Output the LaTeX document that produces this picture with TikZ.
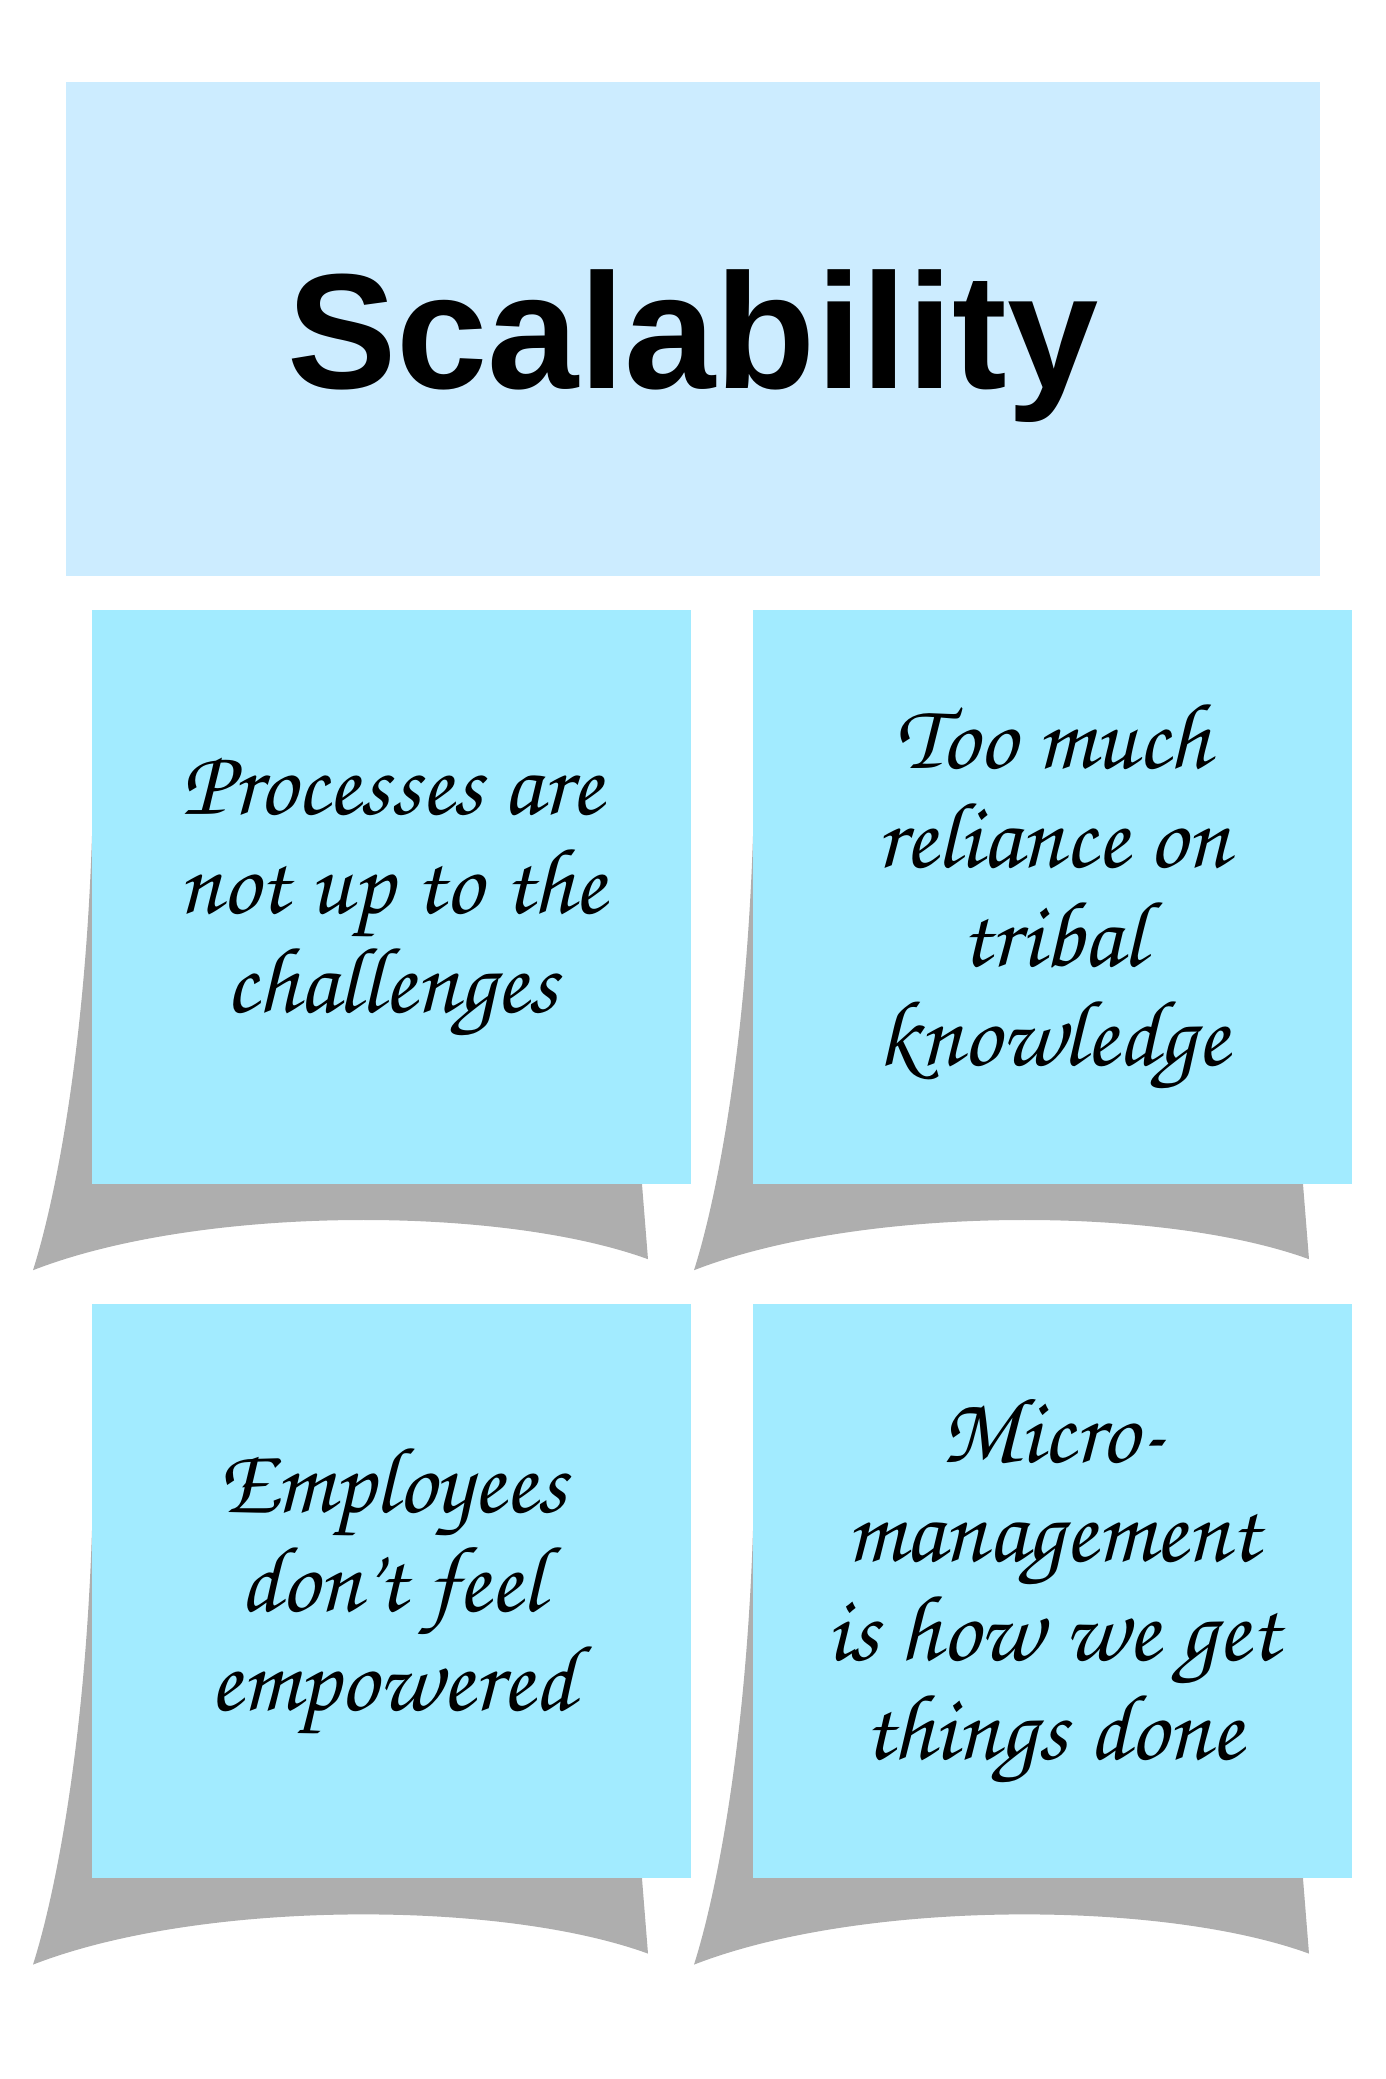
\documentclass[tikz,border=0pt]{standalone}
\usepackage{fontspec}
\setmainfont{Liberation Sans}
\newfontfamily\handfont{TeX Gyre Chorus}
\usetikzlibrary{positioning,backgrounds}

\definecolor{titleblue}{HTML}{CCECFF}
\definecolor{notecyan}{HTML}{A2EBFF}
\definecolor{shadowgray}{HTML}{AEAEAE}

\begin{document}
\begin{tikzpicture}[x=0.5pt,y=-0.5pt]
\tikzstyle{headline} = [rectangle, fill=titleblue, minimum width=627pt,
minimum height=247pt, text depth=0pt, font=\fontsize{82}{90}\selectfont\bfseries]
\tikzstyle{sticky} = [rectangle, fill=notecyan, minimum width=299.5pt,
minimum height=287pt, align=center, inner sep=0pt,
font=\handfont\fontsize{47}{49.5}\selectfont]
\tikzstyle{curl} = [fill=shadowgray]

\useasboundingbox (0,0) rectangle (1386,2079);

\node [headline] (title) at (693,329) {Scalability};

\matrix [column sep=31pt,row sep=60pt,inner sep=0pt,anchor=north west] (notes) at (92,609)
{
% row 1
\node [sticky] (process) {Processes are\\ not up to the\\ challenges}; &
\node [sticky] (tribal) {Too much\\ reliance on\\ tribal\\ knowledge}; \\
% row 2
\node [sticky] (empower) {Employees\\ don’t feel\\ empowered}; &
\node [sticky] (micro) {Micro-\\ management\\ is how we get\\ things done}; \\
};

% curled shadows under the notes
\begin{scope}[on background layer]
\foreach \n in {process,tribal,empower,micro}
{
\begin{scope}[shift={(\n.south west)}]
\fill [curl] (0,-348) .. controls (-7,-133) and (-37,17) .. (-59,86)
  .. controls (108,21) and (408,21) .. (556,75)
  -- (550,0) -- (550,-20) -- (0,-20) -- cycle;
\end{scope}
}
\end{scope}
\end{tikzpicture}
\end{document}
